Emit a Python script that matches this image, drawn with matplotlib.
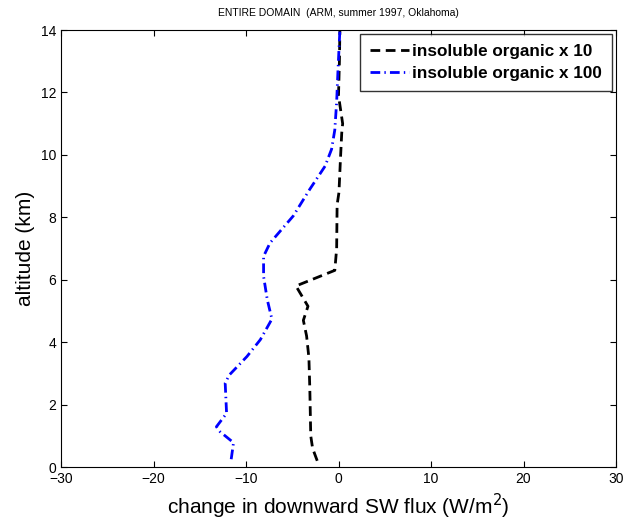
import matplotlib
matplotlib.use('Agg')
import matplotlib.pyplot as plt

plt.rcParams['font.family'] = ['Liberation Sans', 'DejaVu Sans']

# insoluble organic x 10
alt_10 = [0.2, 0.6, 1.0, 2.5, 3.5, 4.2, 4.7, 5.15, 5.5, 5.8, 6.3, 7.0, 8.4, 8.8, 9.8, 10.7, 11.0, 11.9, 13.0, 14.0]
sw_10 = [-2.3, -2.8, -3.0, -3.1, -3.2, -3.45, -3.8, -3.3, -4.0, -4.6, -0.4, -0.2, -0.15, 0.05, 0.2, 0.35, 0.45, 0.0, 0.1, 0.15]

# insoluble organic x 100
alt_100 = [0.25, 0.78, 1.13, 1.29, 1.72, 2.69, 2.95, 3.54, 4.08, 4.74, 5.36, 6.11, 6.75, 7.18, 8.04, 8.9, 9.64, 10.18, 10.8, 11.7, 12.75, 14.0]
sw_100 = [-11.6, -11.35, -12.8, -13.2, -12.1, -12.25, -11.8, -9.9, -8.45, -7.2, -7.7, -8.1, -8.1, -7.4, -4.9, -3.1, -1.45, -0.75, -0.4, -0.2, -0.05, 0.15]

fig = plt.figure(figsize=(6.25, 5.21), dpi=100)
ax = fig.add_axes([0.0976, 0.1036, 0.888, 0.8388])

ax.plot(sw_10, alt_10, color='black', linestyle=(0, (3.5, 2)), linewidth=2,
        label='insoluble organic x 10')
ax.plot(sw_100, alt_100, color='blue', linestyle=(0, (3.5, 1.5, 0.5, 1.5)), linewidth=2,
        label='insoluble organic x 100')

ax.set_xlim(-30, 30)
ax.set_ylim(0, 14)
ax.set_xticks([-30, -20, -10, 0, 10, 20, 30])
ax.set_yticks([0, 2, 4, 6, 8, 10, 12, 14])
ax.tick_params(direction='in', top=True, right=True, labelsize=10, length=4)

ax.set_xlabel('change in downward SW flux (W/m$^2$)', fontsize=15, labelpad=4)
ax.set_ylabel('altitude (km)', fontsize=15, labelpad=4)
ax.set_title('ENTIRE DOMAIN  (ARM, summer 1997, Oklahoma)', fontsize=7.5, pad=10)

leg = ax.legend(loc='upper right', prop={'weight': 'bold', 'size': 12.3},
                frameon=True, fancybox=False, edgecolor='black',
                handlelength=2.3, handletextpad=0.2, borderpad=0.55,
                labelspacing=0.45, borderaxespad=0.25)
leg.get_frame().set_linewidth(1)

fig.savefig('out.png', dpi=100)
